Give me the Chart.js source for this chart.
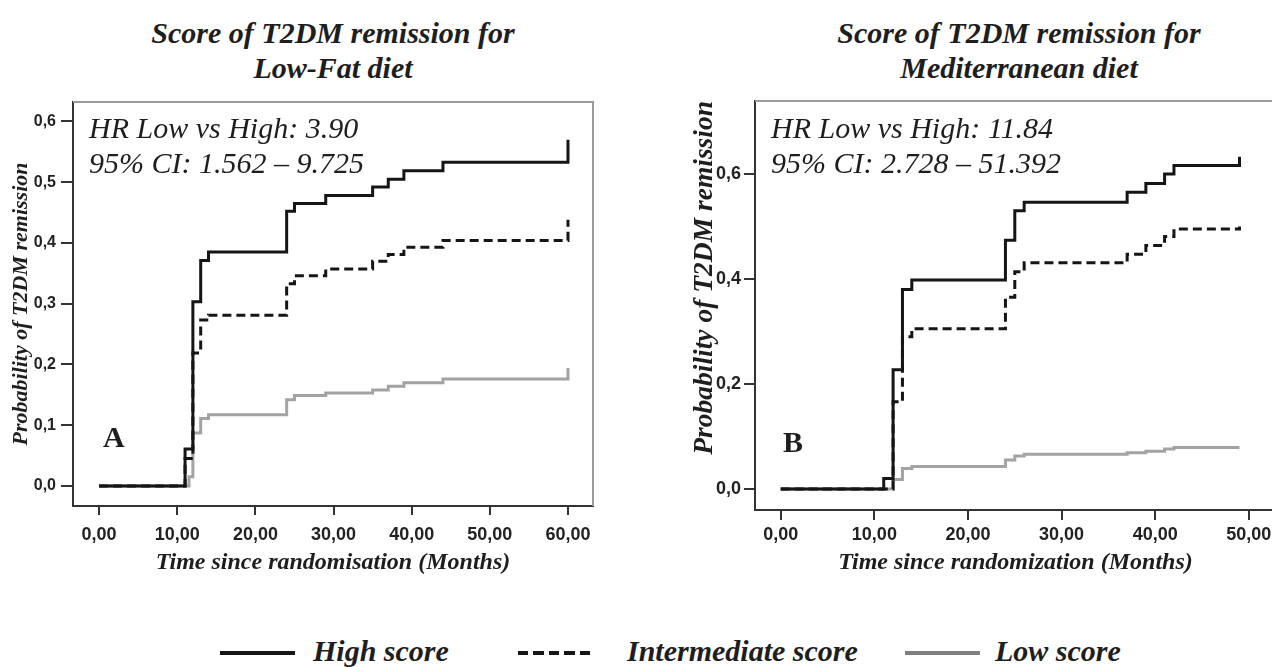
<!DOCTYPE html>
<html lang="en">
<head>
<meta charset="UTF-8">
<title>Score of T2DM remission</title>
<script src="https://cdn.jsdelivr.net/npm/chart.js"></script>
<style>
  html, body { margin: 0; padding: 0; background: #fff; }
  body { width: 1272px; height: 667px; overflow: hidden; position: relative;
         font-family: "Liberation Serif", "Times New Roman", serif; color: #1e1e1e; }
  canvas { position: absolute; top: 0; }
  #chartA { left: 0; }
  #chartB { left: 636px; }
  .title { position: absolute; top: 15px; width: 666px; text-align: center; font-size: 30px;
           line-height: 35px; font-weight: bold; font-style: italic; }
  .note { position: absolute; top: 110px; font-size: 30px; line-height: 35px; font-style: italic; white-space: nowrap; }
  .tag { position: absolute; font-size: 30px; line-height: 35px; font-weight: bold; }
  .legend { position: absolute; top: 633px; font-size: 30px; line-height: 35px; font-weight: bold;
            font-style: italic; white-space: nowrap; }
  .swatch { position: absolute; top: 651px; height: 4px; width: 75px; }
</style>
</head>
<body>
  <div class="title" style="left:0">Score of T2DM remission for<br>Low-Fat diet</div>
  <div class="title" style="left:686px">Score of T2DM remission for<br>Mediterranean diet</div>

  <canvas id="chartA" width="636" height="600"></canvas>
  <canvas id="chartB" width="650" height="600"></canvas>

  <div class="note" style="left:89px">HR Low vs High: 3.90<br>95% CI: 1.562 – 9.725</div>
  <div class="note" style="left:771px">HR Low vs High: 11.84<br>95% CI: 2.728 – 51.392</div>
  <div class="tag" style="left:103px; top:419px">A</div>
  <div class="tag" style="left:783px; top:424px">B</div>

  <div class="swatch" style="left:220px; background:#151515"></div>
  <div class="legend" style="left:313px">High score</div>
  <div class="swatch" style="left:518px; width:72px; background:repeating-linear-gradient(90deg,#151515 0 10px,transparent 10px 15.5px)"></div>
  <div class="legend" style="left:627px">Intermediate score</div>
  <div class="swatch" style="left:905px; background:#808080"></div>
  <div class="legend" style="left:995px">Low score</div>

  <script>
    // Panel A - Low-Fat diet
    const timeHighA = [0, 11, 12, 13, 14, 24, 25, 29, 35, 37, 39, 44, 60];
    const highA = [0, 0.061, 0.303, 0.371, 0.385, 0.452, 0.465, 0.478, 0.492, 0.505, 0.519, 0.533, 0.570];
    const timeMidA = [0, 11, 12, 13, 14, 24, 25, 29, 35, 37, 39, 44, 60];
    const midA = [0, 0.045, 0.219, 0.273, 0.281, 0.333, 0.346, 0.357, 0.370, 0.381, 0.393, 0.404, 0.438];
    const timeLowA = [0, 11.5, 12, 13, 14, 24, 25, 29, 35, 37, 39, 44, 60];
    const lowA = [0, 0.015, 0.087, 0.111, 0.117, 0.142, 0.149, 0.153, 0.158, 0.164, 0.170, 0.176, 0.194];

    // Panel B - Mediterranean diet
    const timeHighB = [0, 11, 12, 13, 14, 24, 25, 26, 37, 39, 41, 42, 49];
    const highB = [0, 0.020, 0.227, 0.380, 0.398, 0.474, 0.530, 0.546, 0.565, 0.582, 0.600, 0.616, 0.633];
    const timeMidB = [0, 12, 13, 14, 24, 25, 26, 37, 39, 41, 42, 49];
    const midB = [0, 0.166, 0.290, 0.305, 0.365, 0.414, 0.431, 0.447, 0.464, 0.481, 0.495, 0.500];
    const timeLowB = [0, 12, 13, 14, 24, 25, 26, 37, 39, 41, 42, 49];
    const lowB = [0, 0.018, 0.039, 0.043, 0.055, 0.063, 0.066, 0.069, 0.072, 0.076, 0.079, 0.079];

    // tick labels
    const xTicksA = [0, 10, 20, 30, 40, 50, 60];
    const yTicksA = [0, 0.1, 0.2, 0.3, 0.4, 0.5, 0.6];
    const xTicksB = [0, 10, 20, 30, 40, 50];
    const yTicksB = [0, 0.2, 0.4, 0.6];

    const ink = '#151515';

    function points(xs, ys) {
      return xs.map((x, i) => ({ x: x, y: ys[i] }));
    }

    // light frame on top and right like SPSS
    const framePlugin = {
      id: 'frame',
      beforeDatasetsDraw(chart) {
        const { ctx, chartArea: a } = chart;
        ctx.save();
        ctx.strokeStyle = '#9a9a9a';
        ctx.lineWidth = 2;
        ctx.beginPath();
        ctx.moveTo(a.left, a.top);
        ctx.lineTo(a.right, a.top);
        ctx.lineTo(a.right, a.bottom);
        ctx.stroke();
        ctx.restore();
      }
    };

    function makeChart(id, o) {
      const ctx = document.getElementById(id).getContext('2d');
      return new Chart(ctx, {
        type: 'line',
        data: {
          datasets: [
            { label: 'High score', data: points(o.tHigh, o.high), borderColor: ink, borderWidth: 3 },
            { label: 'Intermediate score', data: points(o.tMid, o.mid), borderColor: ink, borderWidth: 3, borderDash: [9, 5] },
            { label: 'Low score', data: points(o.tLow, o.low), borderColor: '#a3a3a3', borderWidth: 3 }
          ]
        },
        options: {
          responsive: false,
          animation: false,
          layout: { padding: o.padding },
          plugins: { legend: { display: false }, tooltip: { enabled: false } },
          elements: { line: { stepped: true, fill: false }, point: { radius: 0 } },
          scales: {
            x: {
              type: 'linear',
              min: o.xMin, max: o.xMax,
              afterFit: s => { s.height = o.xAxisHeight; },
              afterBuildTicks: s => { s.ticks = o.xTicks.map(v => ({ value: v })); },
              border: { color: '#333', width: 2 },
              grid: { drawOnChartArea: false, drawTicks: true, tickLength: o.xTickLen, color: '#333', lineWidth: 2 },
              ticks: {
                padding: o.xTickPad, color: '#222', maxRotation: 0,
                font: { family: 'Liberation Sans', weight: 'bold', size: 18 },
                callback: v => v.toFixed(2).replace('.', ',')
              },
              title: {
                display: true, text: o.xTitle, color: '#1e1e1e',
                padding: { top: 0, bottom: 23 },
                font: { family: 'Liberation Serif', style: 'italic', weight: 'bold', size: 24 }
              }
            },
            y: {
              min: o.yMin, max: o.yMax,
              afterFit: s => { s.width = o.yAxisWidth; },
              afterBuildTicks: s => { s.ticks = o.yTicks.map(v => ({ value: v })); },
              border: { color: '#333', width: 2 },
              grid: { drawOnChartArea: false, drawTicks: true, tickLength: o.yTickLen, color: '#333', lineWidth: 2 },
              ticks: {
                padding: o.yTickPad, color: '#222',
                font: { family: 'Liberation Sans', weight: 'bold', size: o.yTickSize },
                callback: v => v.toFixed(1).replace('.', ',')
              },
              title: {
                display: true, text: 'Probability of T2DM remission', color: '#1e1e1e',
                align: o.yTitleAlign,
                padding: { top: o.yTitlePad, bottom: 0 },
                font: { family: 'Liberation Serif', style: 'italic', weight: 'bold', size: o.yTitleSize }
              }
            }
          }
        },
        plugins: [framePlugin]
      });
    }

    makeChart('chartA', {
      tHigh: timeHighA, high: highA, tMid: timeMidA, mid: midA, tLow: timeLowA, low: lowA,
      xMin: -3.34, xMax: 63.2, yMin: -0.033, yMax: 0.632,
      xTicks: xTicksA, yTicks: yTicksA,
      padding: { left: 0, right: 43, top: 102, bottom: 0 },
      xAxisHeight: 94, yAxisWidth: 73,
      xTickLen: 9, xTickPad: 9, yTickLen: 12, yTickPad: 5, yTickSize: 16,
      xTitle: 'Time since randomisation (Months)',
      yTitleAlign: 'center', yTitlePad: 8, yTitleSize: 22
    });

    makeChart('chartB', {
      tHigh: timeHighB, high: highB, tMid: timeMidB, mid: midB, tLow: timeLowB, low: lowB,
      xMin: -2.75, xMax: 52.9, yMin: -0.04, yMax: 0.739,
      xTicks: xTicksB, yTicks: yTicksB,
      padding: { left: 0, right: 10, top: 101, bottom: 0 },
      xAxisHeight: 90, yAxisWidth: 119,
      xTickLen: 10, xTickPad: 4, yTickLen: 11, yTickPad: 3, yTickSize: 18,
      xTitle: 'Time since randomization (Months)',
      yTitleAlign: 'end', yTitlePad: 52, yTitleSize: 27.5
    });
  </script>
</body>
</html>
